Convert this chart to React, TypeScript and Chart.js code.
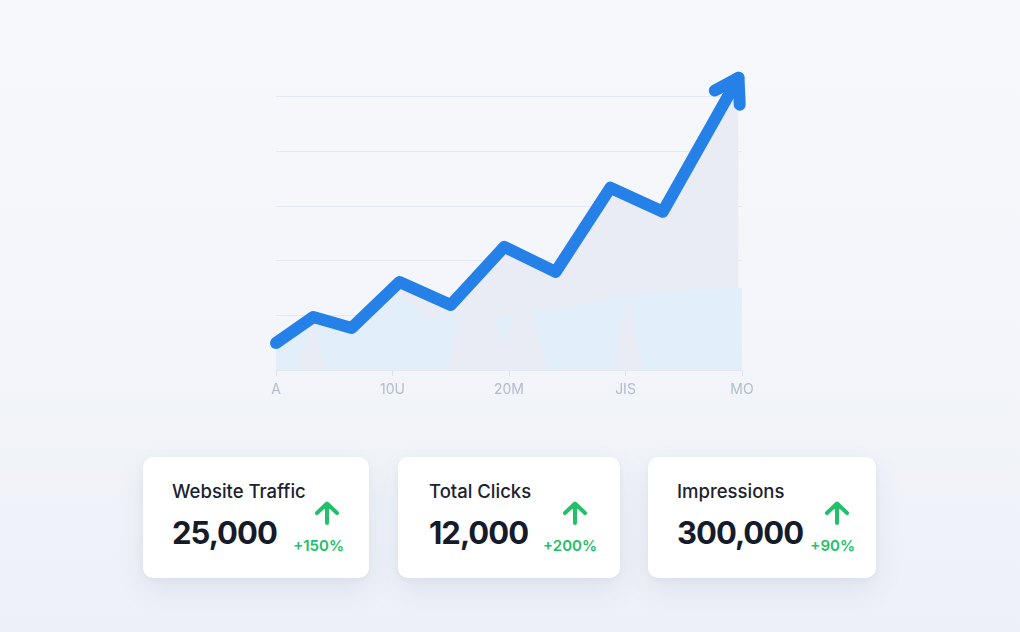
import React, { useEffect, useRef } from "react";
import { Chart, registerables } from "chart.js";

Chart.register(...registerables);

// ---- data ----
const xTickLabels = ["A", "10U", "20M", "JIS", "MO"];
const xTickValues = [0, 10, 20, 30, 40];
const yGridValues = [0, 20, 40, 60, 80, 100];

const trafficX = [0, 3.2, 6.5, 10.6, 15.0, 19.6, 24.0, 28.7, 33.2, 39.7];
const trafficY = [9.9, 19.4, 15.4, 32.2, 23.8, 45.1, 35.9, 66.7, 57.9, 107];

const blueAreaX = [0, 3.18, 6.52, 10.64, 13.2, 15.0, 16.65, 19.2, 20.9, 24.0, 26.1, 28.7, 31.2, 35.5, 40];
const blueAreaY = [9.9, 17.6, 14.7, 27.1, 19.0, 21.2, 17.6, 19.0, 21.2, 22.7, 24.2, 26.4, 28.6, 29.7, 30.0];

const spikeX = [1.8, 3.18, 4.2, 14.68, 15.97, 18.1, 19.57, 20.7, 21.8, 23.26, 28.93, 30.13, 31.5];
const spikeY = [0, 17.6, 0, 0, 24, 24, 8.4, 24, 24, 0, 0, 28.2, 0];

const cardTitles = ["Website Traffic", "Total Clicks", "Impressions"];
const cardValues = ["25,000", "12,000", "300,000"];
const cardChanges = ["+150%", "+200%", "+90%"];

// ---- layout (positions only) ----
const cardLayout = [
  { left: 143, width: 226, textLeft: 29, arrowCx: 184, pctRight: 25 },
  { left: 398, width: 222, textLeft: 31, arrowCx: 177, pctRight: 23 },
  { left: 648, width: 228, textLeft: 29, arrowCx: 189, pctRight: 21 },
];

const LINE_BLUE = "#2581e8";
const GRAY_FILL = "#e9ecf5";
const BLUE_FILL = "#e2effb";

const toPts = (xs: number[], ys: number[]) => xs.map((x, i) => ({ x, y: ys[i] }));

const arrowHeadPlugin = {
  id: "arrowHead",
  afterDatasetsDraw(chart: any) {
    const meta = chart.getDatasetMeta(3);
    const pts = meta.data;
    if (!pts || pts.length < 2) return;
    const a = pts[pts.length - 2];
    const b = pts[pts.length - 1];
    const ang = Math.atan2(b.y - a.y, b.x - a.x);
    const len = 27;
    const spread = (32 * Math.PI) / 180;
    const ctx = chart.ctx;
    ctx.save();
    ctx.strokeStyle = LINE_BLUE;
    ctx.lineWidth = 12;
    ctx.lineCap = "round";
    ctx.lineJoin = "round";
    ctx.beginPath();
    ctx.moveTo(b.x - len * Math.cos(ang - spread), b.y - len * Math.sin(ang - spread));
    ctx.lineTo(b.x, b.y);
    ctx.lineTo(b.x - len * Math.cos(ang + spread), b.y - len * Math.sin(ang + spread));
    ctx.stroke();
    ctx.restore();
  },
};

function TrendChart() {
  const ref = useRef<HTMLCanvasElement | null>(null);
  useEffect(() => {
    if (!ref.current) return;
    const chart = new Chart(ref.current, {
      type: "line",
      data: {
        datasets: [
          {
            data: toPts(trafficX, trafficY),
            borderWidth: 0,
            borderColor: "rgba(0,0,0,0)",
            backgroundColor: GRAY_FILL,
            fill: "origin",
            pointRadius: 0,
            order: 3,
            clip: false as any,
          },
          {
            data: toPts(blueAreaX, blueAreaY),
            borderWidth: 0,
            borderColor: "rgba(0,0,0,0)",
            backgroundColor: BLUE_FILL,
            fill: "origin",
            pointRadius: 0,
            order: 2,
          },
          {
            data: toPts(spikeX, spikeY),
            borderWidth: 0,
            borderColor: "rgba(0,0,0,0)",
            backgroundColor: GRAY_FILL,
            fill: "origin",
            pointRadius: 0,
            order: 1,
          },
          {
            data: toPts(trafficX, trafficY),
            borderWidth: 12,
            borderColor: LINE_BLUE,
            borderCapStyle: "round",
            borderJoinStyle: "round",
            fill: false,
            pointRadius: 0,
            order: 0,
            clip: false as any,
          },
        ],
      },
      options: {
        responsive: false,
        animation: false,
        events: [],
        layout: { padding: { left: 50, right: 54, top: 24, bottom: 0 } },
        plugins: { legend: { display: false }, tooltip: { enabled: false } },
        scales: {
          x: {
            type: "linear",
            min: 0,
            max: 40,
            afterBuildTicks: (s: any) => {
              s.ticks = xTickValues.map((v) => ({ value: v }));
            },
            afterFit: (s: any) => {
              s.height = 40;
            },
            ticks: {
              autoSkip: false,
              maxRotation: 0,
              padding: 5,
              color: "#b1bdca",
              font: { family: "Inter", size: 14 },
              callback: (v: any) => {
                const i = xTickValues.indexOf(Number(v));
                return i >= 0 ? xTickLabels[i] : "";
              },
            },
            grid: {
              drawOnChartArea: false,
              drawTicks: true,
              tickLength: 6,
              color: "#dbe2eb",
            },
            border: { display: false },
          },
          y: {
            min: 0,
            max: 112,
            afterBuildTicks: (s: any) => {
              s.ticks = yGridValues.map((v) => ({ value: v }));
            },
            afterFit: (s: any) => {
              s.width = 0;
            },
            ticks: { display: false },
            grid: { color: "#e3e8f1", lineWidth: 1, drawTicks: false },
            border: { display: false },
          },
        },
      },
      plugins: [arrowHeadPlugin],
    });
    return () => chart.destroy();
  }, []);
  return (
    <canvas
      ref={ref}
      width={570}
      height={370}
      style={{ position: "absolute", left: 226, top: 40, width: 570, height: 370 }}
    />
  );
}

function UpArrow({ cx }: { cx: number }) {
  return (
    <svg
      width={28}
      height={26}
      viewBox="0 0 28 26"
      style={{ position: "absolute", left: cx - 14, top: 43 }}
    >
      <path
        d="M14 23 L14 4 M4 13 L14 3.5 L24 13"
        fill="none"
        stroke="#22c069"
        strokeWidth={4}
        strokeLinecap="round"
        strokeLinejoin="round"
      />
    </svg>
  );
}

export default function App() {
  return (
    <div
      style={{
        position: "fixed",
        left: 0,
        top: 0,
        width: 1020,
        height: 632,
        overflow: "hidden",
        background: "linear-gradient(180deg, #f7f8fb 0%, #f3f5fa 55%, #edf0f7 100%)",
        fontFamily: "Inter, 'Noto Sans', sans-serif",
      }}
    >
      <TrendChart />
      {cardTitles.map((title, i) => {
        const l = cardLayout[i];
        return (
          <div
            key={title}
            style={{
              position: "absolute",
              left: l.left,
              top: 457,
              width: l.width,
              height: 121,
              background: "#ffffff",
              borderRadius: 10,
              boxShadow: "0 12px 30px rgba(40,60,120,0.08), 0 2px 6px rgba(40,60,120,0.04)",
            }}
          >
            <div
              style={{
                position: "absolute",
                left: l.textLeft,
                top: 25,
                fontSize: 18.5,
                lineHeight: "19px",
                fontWeight: 500,
                color: "#1b2230",
                whiteSpace: "nowrap",
              }}
            >
              {title}
            </div>
            <div
              style={{
                position: "absolute",
                left: l.textLeft,
                top: 60,
                fontSize: 31,
                lineHeight: "31px",
                fontWeight: 700,
                color: "#151b29",
                letterSpacing: -1,
                whiteSpace: "nowrap",
              }}
            >
              {cardValues[i]}
            </div>
            <UpArrow cx={l.arrowCx} />
            <div
              style={{
                position: "absolute",
                right: l.pctRight,
                top: 81,
                fontSize: 15,
                lineHeight: "15px",
                fontWeight: 600,
                color: "#22c069",
                whiteSpace: "nowrap",
              }}
            >
              {cardChanges[i]}
            </div>
          </div>
        );
      })}
    </div>
  );
}
